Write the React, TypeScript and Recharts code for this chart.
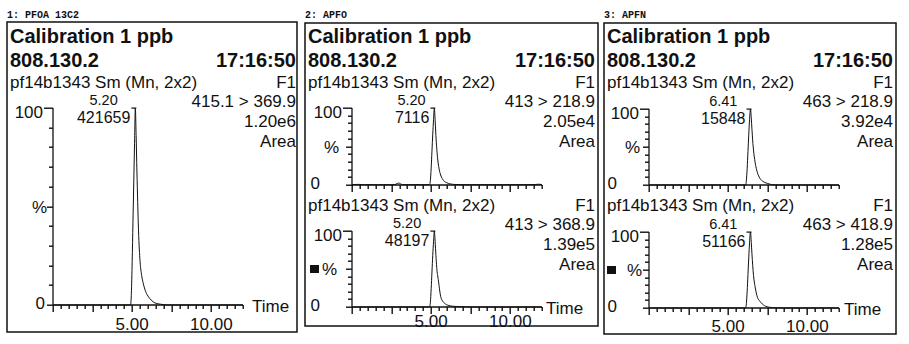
import React from "react";
import { ComposedChart, Line, Scatter, XAxis, YAxis } from "recharts";

const SANS = '"Liberation Sans", Arial, Helvetica, sans-serif';
const MONO = '"Liberation Mono", "Courier New", monospace';
const INK = "#111";

// retention time axis (min) and relative intensity axis (%)
const X_TICKS = [0, 0.5, 1, 1.5, 2, 2.5, 3, 3.5, 4, 4.5, 5, 5.5, 6, 6.5, 7, 7.5, 8, 8.5, 9, 9.5, 10, 10.5, 11, 11.5, 12];
const X_LABELS = [5, 10];
const Y_TICKS = [0, 10, 20, 30, 40, 50, 60, 70, 80, 90, 100];

// 1: PFOA 13C2, 415.1 > 369.9
const PFOA13_T = [0, 2, 4, 4.9, 4.95, 5.0, 5.05, 5.1, 5.15, 5.2, 5.25, 5.3, 5.35, 5.4, 5.5, 5.6, 5.7, 5.8, 6.0, 6.2, 6.45, 6.8, 7.2, 9, 12];
const PFOA13_I = [0, 0, 0, 0, 6, 22, 42, 62, 82, 100, 86, 68, 52, 38, 22, 15, 11, 8, 4.5, 2.5, 1, 0.4, 0, 0, 0];

// 2: APFO, 413 > 218.9
const APFO_A_T = [0, 0.4, 0.8, 1.2, 1.6, 2.0, 2.4, 2.7, 2.85, 2.95, 3.05, 3.2, 3.6, 4.0, 4.4, 4.9, 4.95, 5.0, 5.05, 5.1, 5.15, 5.2, 5.25, 5.3, 5.4, 5.5, 5.6, 5.8, 6.0, 6.2, 6.5, 7.0, 7.5, 8.0, 8.5, 9.0, 9.5, 10.0, 10.5, 11.0, 11.5, 11.8, 12];
const APFO_A_I = [0.3, 0.8, 0.3, 0.5, 0.2, 0.5, 0.3, 0.6, 1.8, 2.6, 1.6, 0.5, 0.3, 0.6, 0.3, 0.4, 6, 22, 44, 66, 85, 100, 84, 64, 36, 21, 13, 5.5, 2.8, 1.4, 0.7, 0.4, 0.3, 0.5, 0.3, 0.4, 0.3, 0.5, 0.3, 0.4, 0.6, 1.0, 0.4];

// 2: APFO, 413 > 368.9
const APFO_B_T = [0, 3, 4.9, 4.95, 5.0, 5.05, 5.1, 5.15, 5.2, 5.25, 5.3, 5.35, 5.45, 5.6, 5.75, 5.9, 6.2, 6.5, 6.8, 7.5, 12];
const APFO_B_I = [0, 0, 0, 6, 24, 46, 68, 86, 100, 86, 68, 52, 36, 14, 7, 4, 1.5, 0.8, 0.5, 0, 0];

// 3: APFN, 463 > 218.9
const APFN_A_T = [0, 3, 6.1, 6.15, 6.2, 6.25, 6.3, 6.35, 6.41, 6.46, 6.5, 6.55, 6.6, 6.7, 6.85, 7.0, 7.25, 7.5, 7.75, 8.2, 12];
const APFN_A_I = [0, 0, 0, 6, 22, 44, 66, 86, 100, 88, 74, 58, 46, 30, 16, 9, 4, 2, 0.6, 0, 0];

// 3: APFN, 463 > 418.9
const APFN_B_T = [0, 3, 6.1, 6.15, 6.2, 6.25, 6.3, 6.35, 6.41, 6.46, 6.5, 6.55, 6.6, 6.7, 6.85, 7.0, 7.3, 7.6, 8.0, 8.5, 12];
const APFN_B_I = [0, 0, 0, 6, 22, 44, 66, 86, 100, 86, 72, 56, 43, 28, 14, 9, 3, 1, 0.3, 0, 0];

const PANEL_HEADERS = ["1: PFOA 13C2", "2: APFO", "3: APFN"];
const SAMPLE = "Calibration 1 ppb";
const RUN_ID = "808.130.2";
const RUN_TIME = "17:16:50";
const TRACE_NAME = "pf14b1343 Sm (Mn, 2x2)";
const FUNCTION_NAME = "F1";
const TRANSITIONS = ["415.1 > 369.9", "413 > 218.9", "413 > 368.9", "463 > 218.9", "463 > 418.9"];
const AREAS = ["1.20e6", "2.05e4", "1.39e5", "3.92e4", "1.28e5"];
const PEAK_RT = [5.2, 5.2, 5.2, 6.41, 6.41];
const PEAK_HEIGHTS = ["421659", "7116", "48197", "15848", "51166"];

const YW = 50;
const MT = 22;
const MR = 56;
const XH = 32;
const PW = 190;

// tick marks are drawn as filled rects so that they stay solid at 1px
function XTick(props: any) {
  const { x, y, payload, labels, labelDy, time, timeDx } = props;
  const v = Number(payload.value);
  const cx = Number(x);
  const cy = Number(y);
  const major = v % 2.5 === 0;
  return (
    <g>
      <rect x={Math.round(cx) - 0.5} y={cy} width={1.4} height={major ? 7 : 4} fill={INK} />
      {labels && X_LABELS.includes(v) ? (
        <text x={cx} y={cy + labelDy} textAnchor="middle" fontFamily={SANS} fontSize={17} fill={INK}>
          {v.toFixed(2)}
        </text>
      ) : null}
      {time && v === 12 ? (
        <text x={cx + timeDx} y={cy + 7} textAnchor="start" fontFamily={SANS} fontSize={17} fill={INK}>
          Time
        </text>
      ) : null}
    </g>
  );
}

function YTick(props: any) {
  const { x, y, payload, zeroDx, pctDx, square } = props;
  const v = Number(payload.value);
  const cx = Number(x);
  const cy = Number(y);
  const len = v === 100 ? 9 : v === 50 || v === 0 ? 6 : 4;
  return (
    <g>
      <rect x={cx - len} y={Math.round(cy) - 0.5} width={len} height={1.4} fill={INK} />
      {v === 100 ? (
        <text x={cx - 10} y={cy + 10} textAnchor="end" fontFamily={SANS} fontSize={17} fill={INK}>
          100
        </text>
      ) : null}
      {v === 50 ? (
        <text x={cx + pctDx} y={cy + 6} textAnchor="end" fontFamily={SANS} fontSize={17} fill={INK}>
          %
        </text>
      ) : null}
      {v === 50 && square ? <rect x={cx - 42} y={cy - 4} width={9} height={8} fill={INK} /> : null}
      {v === 0 ? (
        <text x={cx + zeroDx} y={cy + 4} textAnchor="end" fontFamily={SANS} fontSize={17} fill={INK}>
          0
        </text>
      ) : null}
    </g>
  );
}

function PeakMark(props: any) {
  const { cx, cy, rt, height } = props;
  const right = cx - 5;
  const w = height.length * 0.556 * 16;
  return (
    <g>
      <rect x={cx - 4} y={cy - 0.5} width={5} height={1.2} fill={INK} />
      <text x={right - w / 2} y={cy - 3.5} textAnchor="middle" fontFamily={SANS} fontSize={14.5} fill={INK}>
        {rt.toFixed(2)}
      </text>
      <text x={right} y={cy + 14.5} textAnchor="end" fontFamily={SANS} fontSize={16} fill={INK}>
        {height}
      </text>
    </g>
  );
}

interface PlotProps {
  axisX: number;
  top: number;
  zero: number;
  t: number[];
  v: number[];
  idx: number;
  bottom?: boolean;
  labelDy?: number;
  timeDx?: number;
  square?: boolean;
  zeroDx: number;
  pctDx: number;
}

function Plot(p: PlotProps) {
  const data = p.t.map((t, i) => ({ t, v: p.v[i] }));
  const plotH = p.zero - p.top;
  const apex = [{ t: PEAK_RT[p.idx], v: 100 }];
  return (
    <div style={{ position: "absolute", left: p.axisX - YW, top: p.top - MT }}>
      <ComposedChart
        width={YW + PW + MR}
        height={MT + plotH + XH}
        data={data}
        margin={{ top: MT, right: MR, bottom: 0, left: 0 }}
      >
        <XAxis
          dataKey="t"
          type="number"
          domain={[0, 12]}
          ticks={X_TICKS}
          interval={0}
          height={XH}
          tickSize={0}
          tickMargin={0}
          tickLine={false}
          axisLine={{ stroke: INK, strokeWidth: 1.3 }}
          tick={(tp: any) => (
            <XTick
              {...tp}
              labels={!!p.bottom}
              labelDy={p.labelDy ?? 24}
              time={!!p.bottom}
              timeDx={p.timeDx ?? 6}
            />
          )}
        />
        <YAxis
          type="number"
          domain={[0, 100]}
          ticks={Y_TICKS}
          interval={0}
          width={YW}
          tickSize={0}
          tickMargin={0}
          tickLine={false}
          axisLine={{ stroke: INK, strokeWidth: 1.3 }}
          tick={(tp: any) => <YTick {...tp} zeroDx={p.zeroDx} pctDx={p.pctDx} square={p.square} />}
        />
        <Line
          dataKey="v"
          type="monotone"
          stroke={INK}
          strokeWidth={1}
          dot={false}
          activeDot={false}
          isAnimationActive={false}
        />
        <Scatter
          data={apex}
          dataKey="v"
          isAnimationActive={false}
          shape={(sp: any) => (
            <PeakMark cx={sp.cx} cy={sp.cy} rt={PEAK_RT[p.idx]} height={PEAK_HEIGHTS[p.idx]} />
          )}
        />
      </ComposedChart>
    </div>
  );
}

const BOXES = [
  { x: 7, y: 22, w: 290, h: 310, r: 296 },
  { x: 305, y: 23, w: 293, h: 303, r: 595 },
  { x: 604, y: 23, w: 292, h: 311, r: 893 },
];

function TraceInfo({ left, right, base, idx }: { left: number; right: number; base: number; idx: number }) {
  return (
    <g fontFamily={SANS} fontSize={17} fill={INK}>
      <text x={left} y={base}>{TRACE_NAME}</text>
      <text x={right} y={base} textAnchor="end">{FUNCTION_NAME}</text>
      <text x={right} y={base + 19} textAnchor="end">{TRANSITIONS[idx]}</text>
      <text x={right} y={base + 39} textAnchor="end">{AREAS[idx]}</text>
      <text x={right} y={base + 59} textAnchor="end">Area</text>
    </g>
  );
}

export default function App() {
  return (
    <div style={{ position: "absolute", left: 0, top: 0, width: 909, height: 344, background: "#fff", overflow: "hidden" }}>
      <svg width={909} height={344} style={{ position: "absolute", left: 0, top: 0 }}>
        {BOXES.map((b, i) => (
          <g key={i}>
            <text x={b.x} y={18} fontFamily={MONO} fontWeight="bold" fontSize={10} fill={INK}>
              {PANEL_HEADERS[i]}
            </text>
            <rect x={b.x} y={b.y} width={b.w} height={b.h} fill="none" stroke={INK} strokeWidth={1.5} />
            <text x={b.x + 3} y={43} fontFamily={SANS} fontWeight="bold" fontSize={20} fill={INK}>
              {SAMPLE}
            </text>
            <text x={b.x + 3} y={67} fontFamily={SANS} fontWeight="bold" fontSize={20} fill={INK}>
              {RUN_ID}
            </text>
            <text x={b.r} y={67} textAnchor="end" fontFamily={SANS} fontWeight="bold" fontSize={20} fill={INK}>
              {RUN_TIME}
            </text>
          </g>
        ))}
        <TraceInfo left={10} right={296} base={88} idx={0} />
        <TraceInfo left={308} right={595} base={88} idx={1} />
        <TraceInfo left={308} right={595} base={211} idx={2} />
        <TraceInfo left={607} right={893} base={88} idx={3} />
        <TraceInfo left={607} right={893} base={211} idx={4} />
      </svg>
      <Plot axisX={53} top={108} zero={305} t={PFOA13_T} v={PFOA13_I} idx={0} bottom labelDy={25} timeDx={9} zeroDx={-8} pctDx={-6} />
      <Plot axisX={352} top={108} zero={185} t={APFO_A_T} v={APFO_A_I} idx={1} zeroDx={-32} pctDx={-13} />
      <Plot axisX={352} top={231} zero={307} t={APFO_B_T} v={APFO_B_I} idx={2} bottom labelDy={20} timeDx={4} square zeroDx={-32} pctDx={-15} />
      <Plot axisX={649} top={109} zero={185} t={APFN_A_T} v={APFN_A_I} idx={3} zeroDx={-32} pctDx={-9} />
      <Plot axisX={649} top={232} zero={308} t={APFN_B_T} v={APFN_B_I} idx={4} bottom labelDy={24} timeDx={5} square zeroDx={-32} pctDx={-7} />
    </div>
  );
}
